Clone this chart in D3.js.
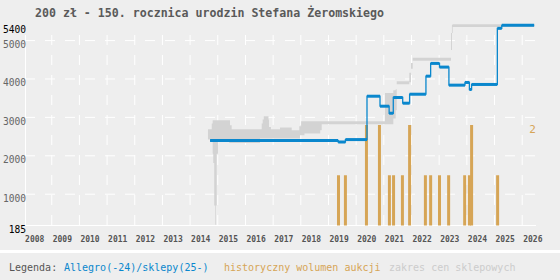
<!DOCTYPE html>
<html><head><meta charset="utf-8">
<script src="https://cdn.jsdelivr.net/npm/d3@7"></script>
<style>
html,body{margin:0;padding:0;background:#eeeeee;}
svg{display:block;}
</style></head><body>
<svg id="c" width="560" height="280"></svg>
<script>
const title = "200 zł - 150. rocznica urodzin Stefana Żeromskiego";
const yearTicks = d3.range(2008, 2027);
const priceTicks = [1000, 2000, 3000, 4000, 5000];
const priceEnds = [185, 5400];
const volumeMaxLabel = "2";

// Allegro/sklepy price (step line): start date of each step and price
const blueDates  = [2014.74, 2019.37, 2019.63, 2020.41, 2020.88, 2021.21, 2021.36, 2021.70, 2021.95, 2022.54, 2022.71, 2023.03, 2023.37, 2023.95, 2024.11, 2024.19, 2025.12, 2025.28, 2026.45];
const bluePrices = [2383, 2346, 2409, 3538, 3278, 3095, 3504, 3356, 3590, 4060, 4392, 4296, 3826, 3896, 3713, 3844, 5305, 5383, 5383];

// shop price range (step band)
const bandDates = [2014.664, 2014.80, 2014.834, 2014.855, 2014.89, 2014.92, 2014.945, 2014.98, 2015.025, 2015.434, 2015.459, 2015.52, 2016.543, 2016.605, 2016.641, 2016.68, 2016.85, 2016.868, 2016.94, 2017.266, 2017.689, 2017.963, 2017.99, 2018.03, 2018.15, 2018.72, 2018.773, 2021.061, 2021.361, 2021.447, 2021.484, 2021.939, 2022.0, 2022.062, 2023.446, 2023.48, 2023.507, 2026.45];
const bandMin   = [2409, 2409, 2043, 1798, 694, 190, 694, 2043, 2400, 2320, 2320, 2320, 2440, 2440, 2440, 2440, 2440, 2440, 2440, 2440, 2440, 2440, 2521, 2521, 2565, 2651, 2808, 2808, 2957, 3173, 3852, 3900, 4250, 4460, 4739, 5182, 5340, 5340];
const bandMax   = [2678, 2826, 2912, 2912, 2912, 2912, 2912, 2912, 2912, 2912, 2782, 2678, 2678, 2826, 2931, 3017, 2931, 2738, 2678, 2722, 2651, 2756, 2756, 2886, 2886, 2886, 2886, 3625, 3695, 3721, 3930, 4150, 4400, 4540, 5182, 5400, 5409, 5409];

// historical auction volume
const barDates   = [2019.38, 2019.63, 2020.39, 2020.86, 2021.22, 2021.37, 2021.69, 2021.95, 2022.52, 2022.71, 2023.03, 2023.36, 2023.94, 2024.11, 2024.19, 2025.13];
const barVolumes = [1, 1, 2, 2, 1, 1, 1, 2, 1, 1, 1, 1, 1, 1, 2, 1];

const legendItems = ["Legenda:", "Allegro(-24)/sklepy(25-)", "historyczny wolumen aukcji", "zakres cen sklepowych"];

const BLUE = "#0a87cd", ORANGE = "#d6a556", BAND = "#d3d3d3";
const MONO = "'DejaVu Sans Mono', 'Liberation Mono', monospace";

const svg = d3.select("#c");
svg.append("rect").attr("x",0).attr("y",0).attr("width",560).attr("height",280).attr("fill","#eeeeee");
svg.append("rect").attr("x",0).attr("y",250).attr("width",560).attr("height",3).attr("fill","#ffffff");

const x = d3.scaleLinear().domain([2008.07, 2026.47]).range([25.5, 534.7]);
const y = d3.scaleLinear().domain([185, 5400]).range([225, 24.7]);
const yv = d3.scaleLinear().domain([0, 2]).range([225.5, 125]);

// horizontal gridlines
const gH = svg.append("g").attr("transform","translate(25,0)")
  .call(d3.axisLeft(y).tickValues(priceTicks).tickSize(-511).tickFormat(""));
gH.select(".domain").remove();
gH.selectAll(".tick line").attr("stroke","#ffffff").attr("stroke-width",1).attr("stroke-dasharray","10,10");

// vertical gridlines
const gV = svg.append("g").attr("transform","translate(0,225)")
  .call(d3.axisBottom(x).tickValues(yearTicks.filter(v => v > 2008)).tickSize(-200).tickFormat(""));
gV.select(".domain").remove();
gV.selectAll(".tick line").attr("stroke","#ffffff").attr("stroke-width",1).attr("stroke-dasharray","10,10");

// axis lines
svg.append("line").attr("x1",25).attr("x2",536).attr("y1",y(185)+0.5).attr("y2",y(185)+0.5).attr("stroke","#fff").attr("stroke-width",1);
svg.append("line").attr("x1",25.5).attr("x2",25.5).attr("y1",35).attr("y2",225).attr("stroke","#fff").attr("stroke-width",1);

// price range band
const bandData = bandDates.map((d,i) => ({d, lo: bandMin[i], hi: bandMax[i]}));
svg.append("path").datum(bandData)
  .attr("fill", BAND)
  .attr("d", d3.area().curve(d3.curveStepAfter).x(p => x(p.d)).y0(p => y(p.lo)).y1(p => y(p.hi)));

// volume bars
svg.append("g").selectAll("rect").data(barDates.map((d,i)=>({d, v: barVolumes[i]}))).join("rect")
  .attr("x", p => x(p.d) - 1.5).attr("width", 3)
  .attr("y", p => yv(p.v)).attr("height", p => yv(0) - yv(p.v))
  .attr("fill", ORANGE);

svg.append("text").attr("x", 532.5).attr("y", 133).attr("text-anchor","middle")
  .attr("font-family", MONO).attr("font-size", 11).attr("fill", ORANGE).text(volumeMaxLabel);

// blue step line
const blueData = blueDates.map((d,i) => ({d, p: bluePrices[i]}));
svg.append("path").datum(blueData)
  .attr("fill","none").attr("stroke", BLUE).attr("stroke-width", 1.3)
  .attr("d", d3.line().curve(d3.curveStepAfter).x(q => x(q.d)).y(q => y(q.p)));
svg.append("g").selectAll("line").data(blueData.slice(0, -1)).join("line")
  .attr("x1", (q) => x(q.d)).attr("x2", (q,i) => x(blueData[i+1].d))
  .attr("y1", q => y(q.p)).attr("y2", q => y(q.p))
  .attr("stroke", BLUE).attr("stroke-width", 3);

// y axis labels
const gY = svg.append("g").attr("transform","translate(26,0)")
  .call(d3.axisLeft(y).tickValues(priceEnds.concat(priceTicks)).tickSize(0).tickPadding(0).tickFormat(d3.format("d")));
gY.select(".domain").remove();
gY.selectAll(".tick text").attr("dy", 0).attr("y", 7.3).attr("x", 0)
  .attr("font-family", MONO).attr("font-size", 9.6)
  .attr("fill", d => priceEnds.includes(d) ? "#000000" : "#666666");

// x axis labels
const gX = svg.append("g").attr("transform","translate(0,225)")
  .call(d3.axisBottom(x).tickValues(yearTicks).tickSize(0).tickPadding(0).tickFormat(d3.format("d")));
gX.select(".domain").remove();
gX.selectAll(".tick text").attr("dy", 0).attr("y", 17).attr("x", 1)
  .attr("text-anchor","start")
  .attr("font-family", MONO).attr("font-size", 8).attr("font-weight","bold").attr("fill","#555555");

// title
svg.append("text").attr("x", 35).attr("y", 17)
  .attr("font-family", MONO).attr("font-size", 11.6).attr("font-weight","bold").attr("fill","#5a5a5a")
  .text(title);

// legend
const lg = svg.append("text").attr("x", 9).attr("y", 271).attr("font-family", MONO).attr("font-size", 10).attr("xml:space","preserve");
const lgColors = ["#555555", BLUE, ORANGE, "#cccccc"];
const lgX = [9, 64, 224, 389];
legendItems.forEach((t,i) => lg.append("tspan").attr("x", lgX[i]).attr("fill", lgColors[i]).text(t));
</script>
</body></html>
